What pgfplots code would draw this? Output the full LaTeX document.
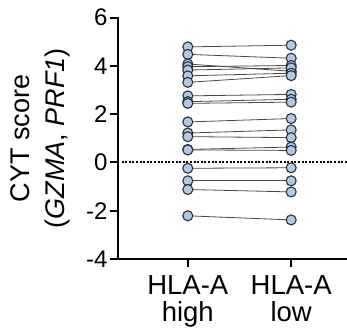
\documentclass[border=0pt]{standalone}
\usepackage{pgfplots}
\pgfplotsset{compat=1.18}
\usepackage{fontspec}
\setmainfont{Liberation Sans}
\definecolor{circfill}{HTML}{B4C8DE}
\definecolor{circdraw}{HTML}{26333F}
\definecolor{pairline}{HTML}{4A4A4A}
\begin{document}
\begin{tikzpicture}
\begin{axis}[
  at={(0,0)}, anchor=south west,
  scale only axis, width=229pt, height=241.3pt,
  xmin=-0.675, xmax=1.54, ymin=-4, ymax=6,
  axis lines*=left,
  axis line style={line width=2.2pt, line cap=rect},
  xtick={0,1}, xticklabels={{HLA-A\\high},{HLA-A\\low}},
  ytick={-4,-2,0,2,4,6}, yticklabels={-4,-2,0,2,4,6},
  tick align=outside, major tick length=8pt,
  tick style={line width=2pt, black},
  xticklabel style={font=\fontsize{27.5}{27}\selectfont, align=center, yshift=-5pt},
  yticklabel style={font=\fontsize{24}{24}\selectfont, xshift=1pt},
  ylabel={CYT score\\(\textit{GZMA}, \textit{PRF1})},
  ylabel style={font=\fontsize{27}{35}\selectfont, align=center, at={(axis description cs:-0.34,0.5)}, anchor=center},
  clip=false,
]
\addplot[black, line width=2pt, dash pattern=on 2pt off 1.6pt] coordinates {(-0.64,0) (1.54,0)};
% pair lines
\addplot[pairline, line width=0.8pt] coordinates {(0,4.79) (1,4.86)};
\addplot[pairline, line width=0.8pt] coordinates {(0,4.48) (1,4.32)};
\addplot[pairline, line width=0.8pt] coordinates {(0,4.08) (1,3.78)};
\addplot[pairline, line width=0.8pt] coordinates {(0,3.97) (1,4.02)};
\addplot[pairline, line width=0.8pt] coordinates {(0,3.83) (1,3.92)};
\addplot[pairline, line width=0.8pt] coordinates {(0,3.59) (1,3.70)};
\addplot[pairline, line width=0.8pt] coordinates {(0,3.32) (1,3.60)};
\addplot[pairline, line width=0.8pt] coordinates {(0,2.76) (1,2.82)};
\addplot[pairline, line width=0.8pt] coordinates {(0,2.52) (1,2.62)};
\addplot[pairline, line width=0.8pt] coordinates {(0,2.45) (1,2.50)};
\addplot[pairline, line width=0.8pt] coordinates {(0,1.68) (1,1.82)};
\addplot[pairline, line width=0.8pt] coordinates {(0,1.22) (1,1.35)};
\addplot[pairline, line width=0.8pt] coordinates {(0,1.07) (1,1.03)};
\addplot[pairline, line width=0.8pt] coordinates {(0,0.54) (1,0.64)};
\addplot[pairline, line width=0.8pt] coordinates {(0,0.52) (1,0.50)};
\addplot[pairline, line width=0.8pt] coordinates {(0,-0.24) (1,-0.22)};
\addplot[pairline, line width=0.8pt] coordinates {(0,-0.76) (1,-0.76)};
\addplot[pairline, line width=0.8pt] coordinates {(0,-1.12) (1,-1.22)};
\addplot[pairline, line width=0.8pt] coordinates {(0,-2.21) (1,-2.38)};
% markers
\addplot[only marks, mark=*, mark size=5pt, mark options={fill=circfill, draw=circdraw, line width=1.1pt}] coordinates {
(0,4.79) (0,4.48) (0,4.08) (0,3.97) (0,3.83) (0,3.59) (0,3.32) (0,2.76) (0,2.52) (0,2.45)
(0,1.68) (0,1.22) (0,1.07) (0,0.54) (0,0.52) (0,-0.24) (0,-0.76) (0,-1.12) (0,-2.21)
(1,4.86) (1,4.32) (1,3.78) (1,4.02) (1,3.92) (1,3.70) (1,3.60) (1,2.82) (1,2.62) (1,2.50)
(1,1.82) (1,1.35) (1,1.03) (1,0.64) (1,0.50) (1,-0.22) (1,-0.76) (1,-1.22) (1,-2.38)};
\end{axis}
\pgfresetboundingbox
\path (-118pt,-69pt) rectangle (229pt,259pt);
\end{tikzpicture}
\end{document}
